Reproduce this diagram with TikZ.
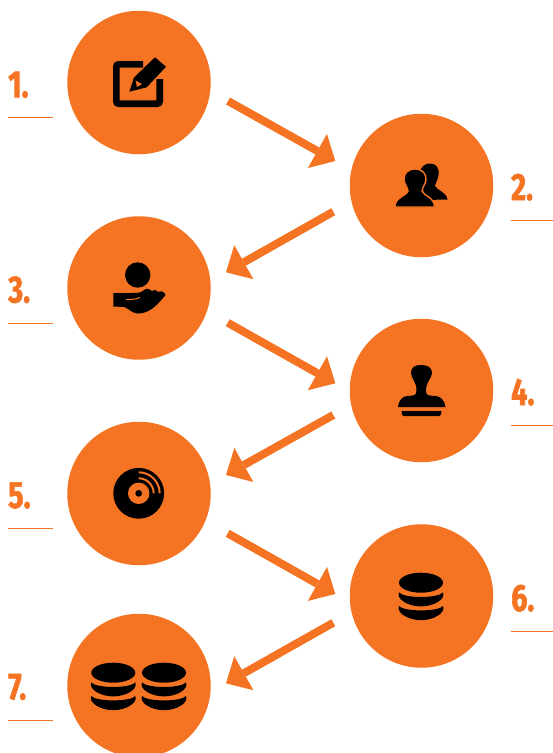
\documentclass[tikz,border=0pt]{standalone}
\usepackage{fontspec}
\usetikzlibrary{arrows.meta,calc}
\newfontfamily\numfont[FakeStretch=0.76,FakeBold=1.6]{Fira Sans Bold}
\definecolor{brand}{HTML}{F57423}
\tikzset{
  stage/.style={circle,fill=brand,minimum size=143.5pt,inner sep=0pt,outer sep=0pt},
  flow/.style={draw=brand,line width=8pt,-{Triangle[length=20.5pt,width=39pt,line width=0pt,fill=brand]}},
  num/.style={anchor=base west,inner sep=0pt,text=brand,font=\numfont\fontsize{38}{38}\selectfont},
  rulel/.style={draw=brand,line width=0.9pt},
  dbstack/.pic={
    \fill[black] (0,-13.3) ellipse[x radius=22,y radius=10];
    \fill[black] (-22,-3.6) .. controls (-20,-0.8) and (-10,1) .. (0,1) .. controls (10,1) and (20,-0.8) .. (22,-3.6)
       .. controls (25,3) and (13,10.4) .. (0,10.4) .. controls (-13,10.4) and (-25,3) .. (-22,-3.6) -- cycle;
    \fill[black] (-22,10) .. controls (-20,12.8) and (-10,14.4) .. (0,14.4) .. controls (10,14.4) and (20,12.8) .. (22,10)
       .. controls (25,16.5) and (13,24.2) .. (0,24.2) .. controls (-13,24.2) and (-25,16.5) .. (-22,10) -- cycle;
  }
}
\begin{document}
\begin{tikzpicture}[x=1pt,y=-1pt]
\useasboundingbox (0,0) rectangle (553,753);
\clip (0,0) rectangle (553,753);
% stages
\node[stage] (n1) at (139,82.5) {};
\node[stage] (n2) at (421.5,185.5) {};
\node[stage] (n3) at (139,288) {};
\node[stage] (n4) at (421.5,390.5) {};
\node[stage] (n5) at (139,493.5) {};
\node[stage] (n6) at (421.5,596) {};
\node[stage] (n7) at (139,685.5) {};
% connectors
\coordinate (t1) at ($(n1)+(89,18.5)$);   \coordinate (h1) at ($(n2)+(-86.2,-24.5)$);
\coordinate (t2) at ($(n2)+(-88.2,26.2)$);\coordinate (h2) at ($(n3)+(87,-15.7)$);
\coordinate (t3) at ($(n3)+(88.7,34.7)$); \coordinate (h3) at ($(n4)+(-86.2,-7.2)$);
\coordinate (t4) at ($(n4)+(-88.2,24.5)$);\coordinate (h4) at ($(n5)+(87,-18.5)$);
\coordinate (t5) at ($(n5)+(88.7,39.8)$); \coordinate (h5) at ($(n6)+(-86.2,-2)$);
\coordinate (t6) at ($(n6)+(-88.2,26.7)$);\coordinate (h6) at ($(n7)+(87,-2.2)$);
\draw[flow] (t1) -- (h1);
\draw[flow] (t2) -- (h2);
\draw[flow] (t3) -- (h3);
\draw[flow] (t4) -- (h4);
\draw[flow] (t5) -- (h5);
\draw[flow] (t6) -- (h6);
% labels
\node[num] (l1) at (8,97.3) {1.};
\node[num] (l2) at (511,200) {2.};
\node[num] (l3) at (8,302.5) {3.};
\node[num] (l4) at (511,405) {4.};
\node[num] (l5) at (8,508) {5.};
\node[num] (l6) at (511,611) {6.};
\node[num] (l7) at (8,699.5) {7.};
% rules
\draw[rulel] (8.3,117.5) -- (53,117.5);
\draw[rulel] (8.3,323) -- (53,323);
\draw[rulel] (8.3,528.5) -- (53,528.5);
\draw[rulel] (8.3,720.3) -- (53,720.3);
\draw[rulel] (510.5,220.3) -- (553,220.3);
\draw[rulel] (510.5,425.7) -- (553,425.7);
\draw[rulel] (510.5,631) -- (553,631);
% icon 1: pencil and frame
\draw[black,line width=6.6pt,rounded corners=2.5pt] (143,64.3) -- (116.3,64.3) -- (116.3,103.7) -- (159.7,103.7) -- (159.7,79);
\fill[black] (129.3,91.7) -- (134,77.5) -- (155,57.3) -- (166,66.7) -- (146.7,87.3) -- cycle;
\fill[brand] (135.5,80.5) -- (142,84) -- (137,87) -- cycle;
% icon 2: two people
\fill[black] (430,163.5) .. controls (436.5,163.5) and (439.5,168.5) .. (438.5,175) .. controls (438,179) and (435.5,183) .. (435,186)
  .. controls (436.5,190) and (446.5,192) .. (447.5,199.5) -- (425,200) -- (420,172) .. controls (421,166.5) and (425,163.5) .. (430,163.5) -- cycle;
\fill[black,draw=brand,line width=1.4pt] (415,169) .. controls (422.5,169) and (426.5,174) .. (426,180) .. controls (425.5,184) and (422.5,187) .. (422,191)
  .. controls (423.5,196) and (434.5,197) .. (434.5,207) -- (395,207) .. controls (395,197) and (406.5,196) .. (408,191)
  .. controls (407.5,187) and (404.5,184) .. (404,180) .. controls (403.5,174) and (407.5,169) .. (415,169) -- cycle;
% icon 3: hand with a ball
\fill[black] (137.7,275) circle[radius=12.7];
\fill[black] (113.3,293) -- (133,293) .. controls (137,293) and (141,293) .. (144,290)
  .. controls (147,287.5) and (150,289) .. (152,291) .. controls (155,289.5) and (157,290) .. (158,292)
  .. controls (161,290.5) and (164.5,291.5) .. (165.5,295) .. controls (158,304) and (150,314) .. (137,313.5)
  .. controls (131,312.5) and (128,308) .. (124,307) -- (113.3,306.5) -- cycle;
\draw[brand,line width=1pt] (126,299.5) .. controls (131,299.5) and (136,299.5) .. (140,297.5);
% icon 4: stamp
\fill[black] (421,365) .. controls (427,365) and (432,367) .. (432,373) .. controls (432,378) and (426,382) .. (426,390)
  .. controls (426,396) and (428,395.5) .. (436,396) .. controls (441,396.5) and (445,401) .. (445.5,407)
  -- (398,407) .. controls (398.5,401) and (402,396.5) .. (407,396) .. controls (414,395.5) and (416.5,396) .. (416.5,390)
  .. controls (416.5,382) and (411,378) .. (411,373) .. controls (411,367) and (415,365) .. (421,365) -- cycle;
\fill[black] (401.5,411) -- (441.5,411) -- (441,414) .. controls (440.8,415.5) and (440,416) .. (438.5,416)
  -- (404.5,416) .. controls (403,416) and (402.2,415.5) .. (402,414) -- cycle;
% icon 5: disc
\fill[black] (138.7,493.3) circle[radius=25.4];
\fill[brand] (138.7,493.3) circle[radius=10.7];
\fill[black] (138.7,493.3) circle[radius=3.4];
\draw[brand,line width=2pt] (138.7,478.3) arc[start angle=-90,end angle=0,radius=15];
\draw[brand,line width=2pt] (138.7,472.3) arc[start angle=-90,end angle=0,radius=21];
% icons 6 and 7: data stacks
\pic at (421,596) {dbstack};
\pic at (113.3,686) {dbstack};
\pic at (164,686) {dbstack};
\end{tikzpicture}
\end{document}
